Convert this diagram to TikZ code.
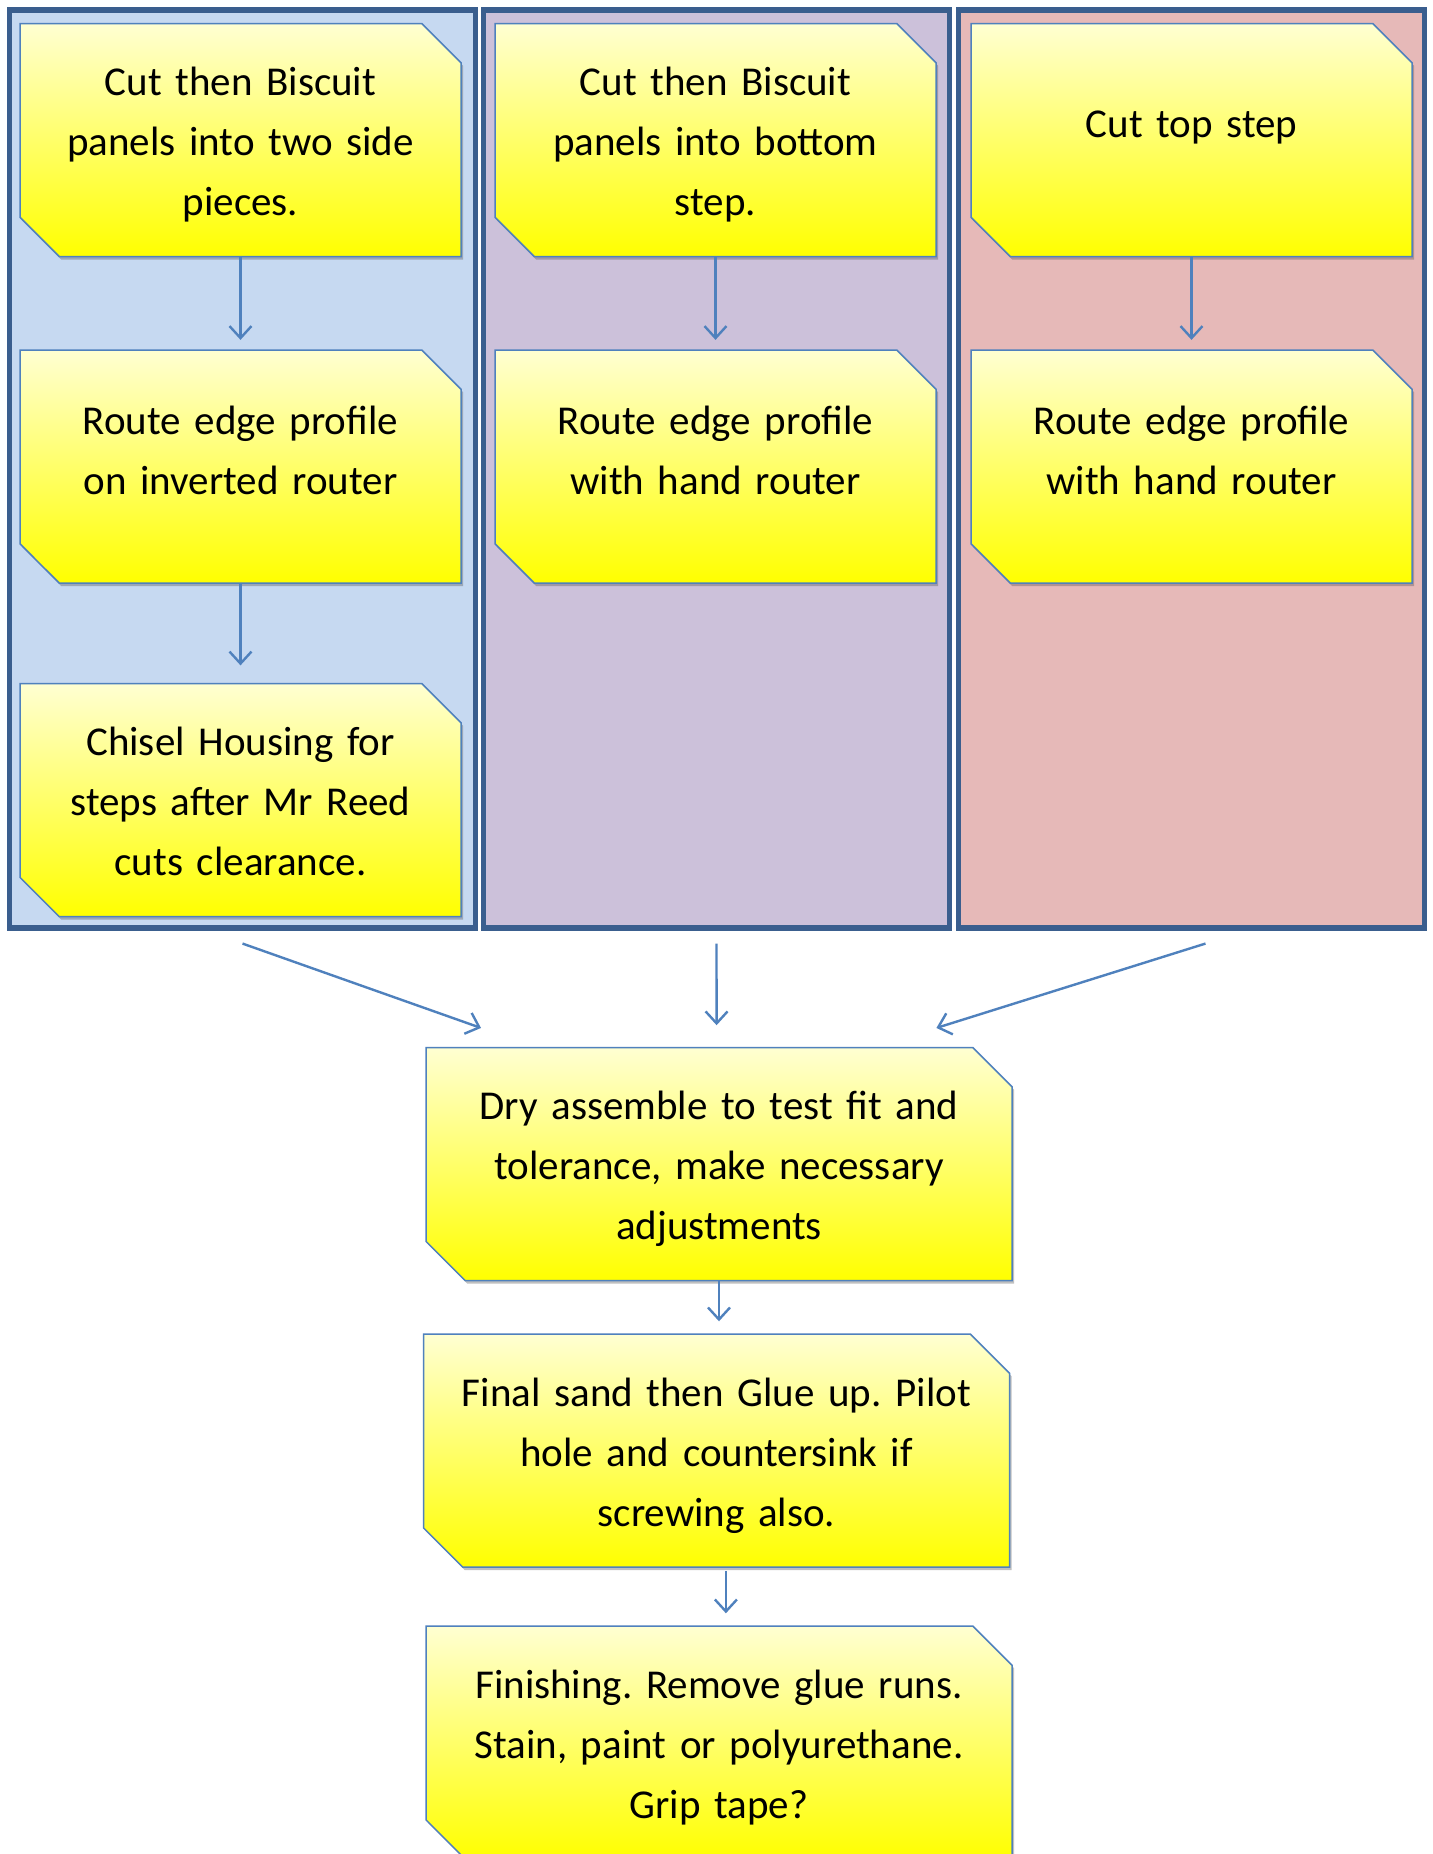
\documentclass[tikz,border=0pt]{standalone}
\usepackage{fontspec}
\setmainfont{Carlito}
\usetikzlibrary{arrows.meta,shapes.misc,shadows}
\definecolor{panelL}{HTML}{C6D9F1}
\definecolor{panelM}{HTML}{CCC1DA}
\definecolor{panelR}{HTML}{E6B9B8}
\definecolor{panelB}{HTML}{3A5E8E}
\definecolor{boxB}{HTML}{4F81BD}
\definecolor{ytop}{HTML}{FFFFD2}
\definecolor{ymid}{HTML}{FFFF8C}
\definecolor{ybot}{HTML}{FFFF00}
\newcommand{\toppad}{\rule{0pt}{21.5pt}}
\newcommand{\botpad}{\rule[-6pt]{0pt}{0pt}}
\newcommand{\lowpad}{\rule[-24pt]{0pt}{0pt}}
\begin{document}
\frenchspacing
\begin{tikzpicture}[x=0.5pt,y=-0.5pt,
  panel/.style={rectangle, draw=panelB, line width=2.8pt, inner sep=0pt,
    minimum width=233pt, minimum height=459pt},
  stepbox/.style={chamfered rectangle,
    chamfered rectangle corners={north east,south west},
    chamfered rectangle xsep=9.8pt, chamfered rectangle ysep=9.8pt,
    draw=boxB, line width=0.75pt,
    top color=ytop, middle color=ymid, bottom color=ybot,
    inner sep=0pt, minimum width=220.5pt, minimum height=116.5pt,
    align=center, text width=190pt,
    font=\fontsize{20.5}{30}\selectfont\frenchspacing,
    drop shadow={shadow xshift=1pt, shadow yshift=-1.5pt, opacity=0.35, fill=black!70}},
  widebox/.style={stepbox, minimum width=293pt, text width=272pt},
  arr/.style={draw=boxB, line width=1.2pt, -{Straight Barb[length=6pt,width=11pt]}}
]
\useasboundingbox (0,0) rectangle (1432,1854);
\fill[white] (0,0) rectangle (1432,1854);
\clip (0,0) rectangle (1432,1854);

% panels
\node[panel, fill=panelL] (pL) at (242.5,468.75) {};
\node[panel, fill=panelM] (pM) at (716.5,468.75) {};
\node[panel, fill=panelR] (pR) at (1191.5,468.75) {};

% left column
\node[stepbox] (l1) at (240.5,140) {\toppad Cut then Biscuit\\panels into two side\\pieces.\botpad};
\node[stepbox] (l2) at (240.5,466.5) {\toppad Route edge profile\\on inverted router\lowpad};
\node[stepbox] (l3) at (240.5,800) {\toppad Chisel Housing for\\steps after Mr Reed\\cuts clearance.\botpad};

% middle column
\node[stepbox] (m1) at (715.5,140) {\toppad Cut then Biscuit\\panels into bottom\\step.\botpad};
\node[stepbox] (m2) at (715.5,466.5) {\toppad Route edge profile\\with hand router\lowpad};

% right column
\node[stepbox] (r1) at (1191.5,140) {\toppad Cut top step\lowpad};
\node[stepbox] (r2) at (1191.5,466.5) {\toppad Route edge profile\\with hand router\lowpad};

% bottom sequence
\node[widebox] (dry) at (719,1164) {\toppad Dry assemble to test fit and\\tolerance, make necessary\\adjustments\botpad};
\node[widebox] (fin) at (716.5,1450.5) {\toppad Final sand then Glue up. Pilot\\hole and countersink if\\screwing also.\botpad};
\node[widebox] (fsh) at (719,1742.5) {\toppad Finishing. Remove glue runs.\\Stain, paint or polyurethane.\\Grip tape?\botpad};

% column arrows
\draw[arr, shorten >=4.7pt] (l1.south) -- (l2.north);
\draw[arr, shorten >=8.7pt] (l2.south) -- (l3.north);
\draw[arr, shorten >=4.7pt] (m1.south) -- (m2.north);
\draw[arr, shorten >=4.7pt] (r1.south) -- (r2.north);

% converging arrows
\draw[arr] ([yshift=-6.5pt]pL.south) -- ([xshift=-119pt,yshift=9.4pt]dry.north);
\draw[arr] ([yshift=-6.5pt]pM.south) -- ([xshift=-1.2pt,yshift=10.8pt]dry.north);
\draw[arr] ([xshift=7pt,yshift=-6.5pt]pR.south) -- ([xshift=108.7pt,yshift=9.4pt]dry.north);

% sequence arrows
\draw[arr, shorten >=6pt] (dry.south) -- (dry.south |- fin.north);
\draw[arr, shorten <=1.5pt, shorten >=6pt] ([xshift=4.7pt]fin.south) -- ([xshift=4.7pt]fin.south |- fsh.north);
\end{tikzpicture}
\end{document}
